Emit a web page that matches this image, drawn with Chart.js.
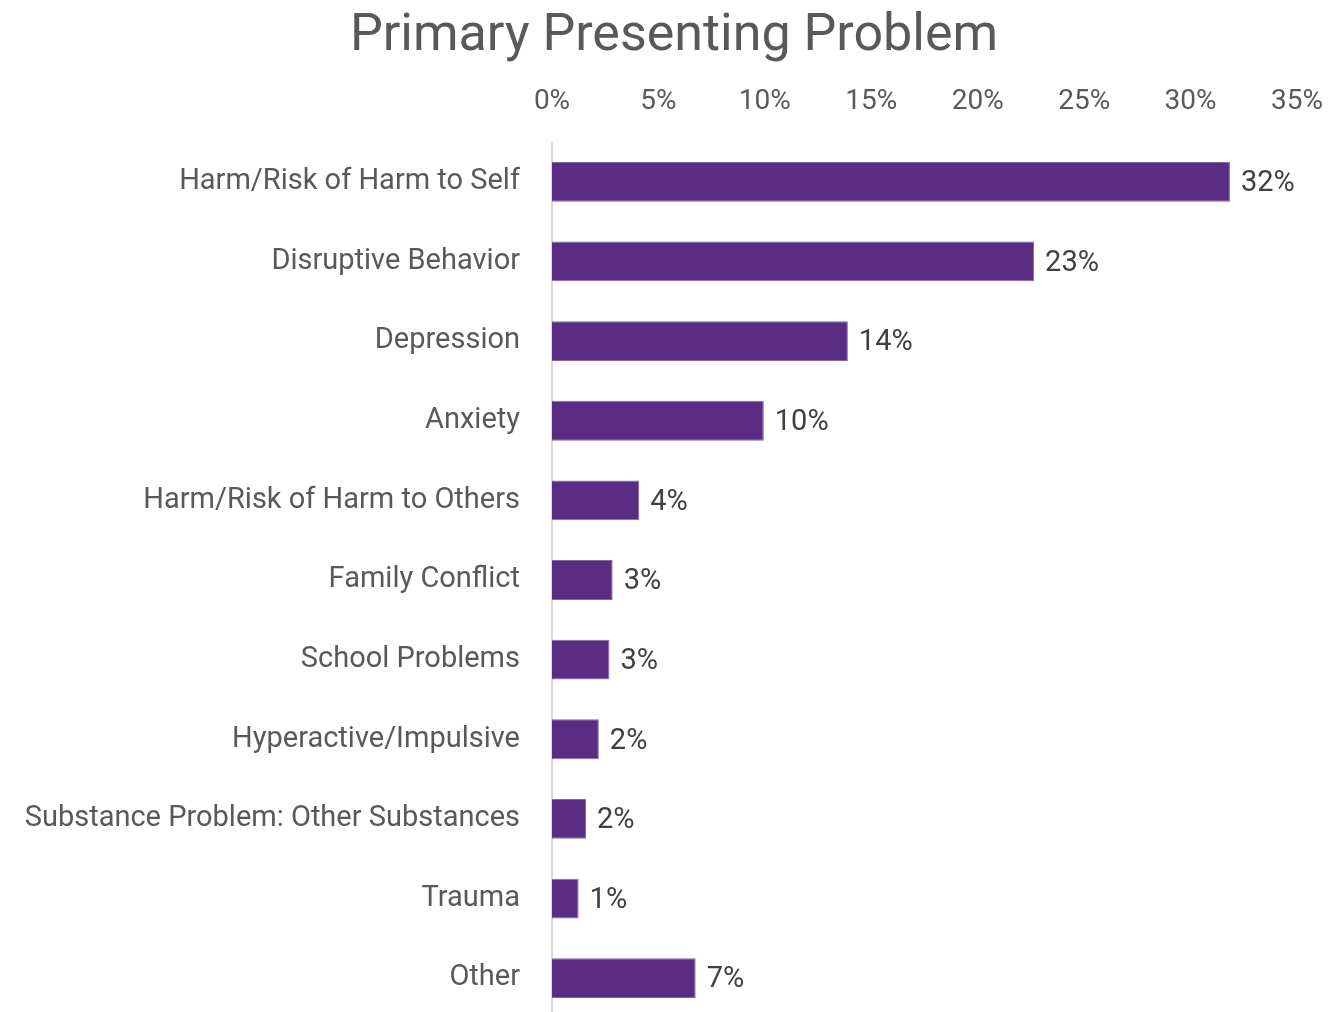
<!DOCTYPE html>
<html>
<head>
<meta charset="utf-8">
<title>Primary Presenting Problem</title>
<script src="https://cdn.jsdelivr.net/npm/chart.js@4"></script>
<style>
  html, body { margin: 0; padding: 0; background: #fff; overflow: hidden; }
  #wrap { width: 1330px; height: 1018px; }
</style>
</head>
<body>
<div id="wrap"><canvas id="chartProblem" width="1330" height="1018"></canvas></div>
<script>
// Motivo principal de consulta (porcentaje de casos)
const CATEGORIES = [
  "Harm/Risk of Harm to Self",
  "Disruptive Behavior",
  "Depression",
  "Anxiety",
  "Harm/Risk of Harm to Others",
  "Family Conflict",
  "School Problems",
  "Hyperactive/Impulsive",
  "Substance Problem: Other Substances",
  "Trauma",
  "Other"
];
const PERCENTS = [31.85, 22.65, 13.9, 9.95, 4.1, 2.85, 2.7, 2.2, 1.6, 1.25, 6.75];
const X_MIN = 0;
const X_MAX = 35;
const X_STEP = 5;

const TITLE = "Primary Presenting Problem";
const FONT = "Roboto, 'Noto Sans', sans-serif";
const BAR_COLOR = "#5B2C83";
const TEXT_GRAY = "#595959";

// ---------- Título dibujado a mano (no ocupa layout) ----------
const titlePlugin = {
  id: "titleText",
  afterDraw(chart) {
    const ctx = chart.ctx;
    ctx.save();
    ctx.font = `52px ${FONT}`;
    ctx.fillStyle = TEXT_GRAY;
    ctx.textAlign = "center";
    ctx.textBaseline = "alphabetic";
    ctx.fillText(TITLE, 674, 50);
    ctx.restore();
  }
};

// ---------- Etiquetas de valor al final de cada barra ----------
const valueLabels = {
  id: "valueLabels",
  afterDatasetsDraw(chart) {
    const ctx = chart.ctx;
    const meta = chart.getDatasetMeta(0);
    ctx.save();
    ctx.font = `29px ${FONT}`;
    ctx.fillStyle = "#404040";
    ctx.textAlign = "left";
    ctx.textBaseline = "middle";
    meta.data.forEach((bar, i) => {
      ctx.fillText(`${Math.round(PERCENTS[i])}%`, bar.x + 11, bar.y + 2);
    });
    ctx.restore();
  }
};

function start() {
  const ctx = document.getElementById("chartProblem");
  new Chart(ctx, {
    type: "bar",
    data: {
      labels: CATEGORIES,
      datasets: [{
        data: PERCENTS,
        backgroundColor: BAR_COLOR,
        borderColor: "#8466A3",
        borderWidth: 1,
        categoryPercentage: 1,
        barPercentage: 0.5
      }]
    },
    options: {
      indexAxis: "y",
      responsive: false,
      animation: false,
      layout: { padding: { top: 82, right: 33, left: 0, bottom: 0 } },
      plugins: {
        legend: { display: false },
        tooltip: { enabled: false }
      },
      scales: {
        x: {
          position: "top",
          min: X_MIN,
          max: X_MAX,
          grid: { display: false, drawTicks: false },
          border: { display: false },
          ticks: {
            stepSize: X_STEP,
            padding: 23,
            color: TEXT_GRAY,
            font: { family: FONT, size: 28 },
            callback: v => `${v}%`
          },
          // alto fijo y sin relleno extra a los lados
          afterFit(scale) {
            scale.height = 60;
            scale.paddingLeft = 0;
            scale.paddingRight = 0;
          }
        },
        y: {
          grid: { display: false, drawTicks: false },
          border: { display: true, color: "#D9D9D9", width: 2 },
          ticks: {
            padding: 32,
            color: TEXT_GRAY,
            font: { family: FONT, size: 29 }
          },
          afterFit(scale) {
            scale.width = 552;
            scale.paddingTop = 0;
            scale.paddingBottom = 0;
          }
        }
      }
    },
    plugins: [titlePlugin, valueLabels]
  });
}

document.addEventListener("DOMContentLoaded", start);
</script>
</body>
</html>
